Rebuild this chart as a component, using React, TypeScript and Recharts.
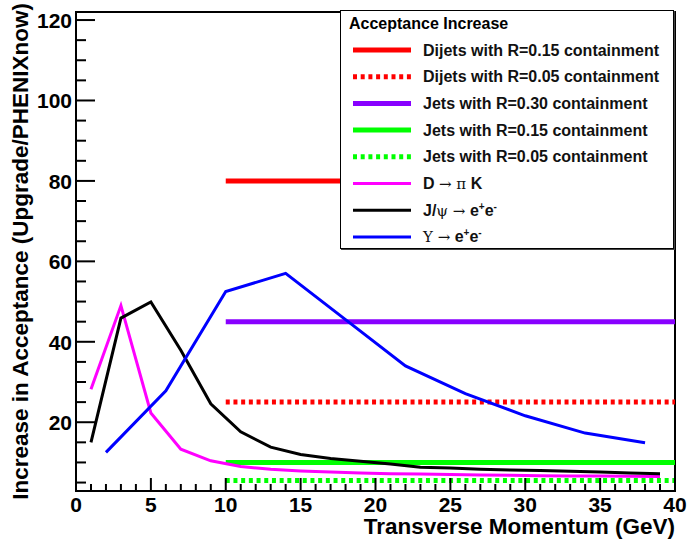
import React from "react";
import { LineChart, Line, XAxis, YAxis, ReferenceArea, Legend } from "recharts";

// transverse momentum points (GeV)
const ptOdd = [1, 3, 5, 7, 9, 11, 13, 15, 17, 19, 21, 23, 25, 27, 29, 31, 33, 35, 37, 39];
const upsilonPt = [2, 6, 10, 14, 18, 22, 26, 30, 34, 38];
const jetPt = [10, 40];

// acceptance increase factors
const dMesonAcc = [28.2, 49, 22.3, 13.3, 10.4, 9.0, 8.3, 7.9, 7.6, 7.4, 7.2, 7.1, 7.0, 6.9, 6.8, 6.7, 6.65, 6.6, 6.55, 6.5];
const jpsiAcc = [15.0, 45.9, 49.9, 37.9, 24.6, 17.6, 13.8, 12.0, 11.0, 10.3, 9.6, 8.8, 8.6, 8.3, 8.1, 8.0, 7.8, 7.6, 7.4, 7.2];
const upsilonAcc = [12.5, 27.8, 52.5, 57.0, 45.5, 34.0, 27.1, 21.6, 17.3, 14.9];
const dijetR15 = [80, 80];
const dijetR05 = [25, 25];
const jetR30 = [45, 45];
const jetR15 = [10, 10];
const jetR05 = [5.5, 5.5];

// axes
const yDomain: [number, number] = [2.9, 122];
const yMajor = [20, 40, 60, 80, 100, 120];
const yTicks = Array.from({ length: 24 }, (_, i) => 5 + i * 5);
const xMajor = [0, 5, 10, 15, 20, 25, 30, 35, 40];
const xTicks = Array.from({ length: 41 }, (_, i) => i);

const FONT = '"Liberation Sans", Arial, Helvetica, sans-serif';
const SYM = '"DejaVu Serif", "Liberation Serif", serif';

const toPoints = (xs: number[], ys: number[]) => xs.map((pt, i) => ({ pt, acc: ys[i] }));

// e+e- with raised charge signs
const ePair = (
  <>
    e<tspan dy={-6} fontSize={10}>+</tspan>
    <tspan dy={6}>e</tspan>
    <tspan dy={-6} fontSize={10}>-</tspan>
  </>
);

type Series = {
  key: string;
  label: React.ReactNode;
  color: string;
  width: number;
  dash?: string;
  data: { pt: number; acc: number }[];
};

const series: Series[] = [
  { key: "dijet15", label: "Dijets with R=0.15 containment", color: "#ff0000", width: 5, data: toPoints(jetPt, dijetR15) },
  { key: "dijet05", label: "Dijets with R=0.05 containment", color: "#ff0000", width: 5, dash: "4 3.7", data: toPoints(jetPt, dijetR05) },
  { key: "jet30", label: "Jets with R=0.30 containment", color: "#8800ff", width: 5, data: toPoints(jetPt, jetR30) },
  { key: "jet15", label: "Jets with R=0.15 containment", color: "#00ff00", width: 5, data: toPoints(jetPt, jetR15) },
  { key: "jet05", label: "Jets with R=0.05 containment", color: "#00ff00", width: 5, dash: "4 3.7", data: toPoints(jetPt, jetR05) },
  {
    key: "dmeson",
    label: (
      <>
        D <tspan fontFamily={SYM} fontWeight="normal" fontSize={15}>{"\u2192 \u03c0"}</tspan> K
      </>
    ),
    color: "#ff00ff",
    width: 3,
    data: toPoints(ptOdd, dMesonAcc),
  },
  {
    key: "jpsi",
    label: (
      <>
        J/<tspan fontFamily={SYM} fontWeight="normal" fontSize={15}>{"\u03c8 \u2192"}</tspan> {ePair}
      </>
    ),
    color: "#000000",
    width: 3,
    data: toPoints(ptOdd, jpsiAcc),
  },
  {
    key: "upsilon",
    label: (
      <>
        <tspan fontFamily={SYM} fontWeight="normal" fontSize={15}>{"\u03a5 \u2192"}</tspan> {ePair}
      </>
    ),
    color: "#0000ff",
    width: 3,
    data: toPoints(upsilonPt, upsilonAcc),
  },
];

const YTick = ({ x, y, payload }: any) => {
  const v = payload.value;
  const major = yMajor.includes(v);
  return (
    <g>
      <line x1={x} x2={x + (major ? 19 : 10)} y1={y} y2={y} stroke="#000" strokeWidth={2} />
      {major && (
        <text x={x - 4} y={y + 8} textAnchor="end" fontFamily={FONT} fontWeight="bold" fontSize={21} fill="#000">
          {v}
        </text>
      )}
    </g>
  );
};

const XTick = ({ x, y, payload }: any) => {
  const v = payload.value;
  const major = xMajor.includes(v);
  return (
    <g>
      <line x1={x} x2={x} y1={y} y2={y - (major ? 13 : 7)} stroke="#000" strokeWidth={2} />
      {major && (
        <text x={x} y={y + 21} textAnchor="middle" fontFamily={FONT} fontWeight="bold" fontSize={21} fill="#000">
          {v}
        </text>
      )}
    </g>
  );
};

const LegendBox = () => (
  <div
    style={{
      width: 334,
      height: 239,
      boxSizing: "border-box",
      border: "1px solid #000",
      boxShadow: "1px 1px 0 #444",
      background: "#fff",
    }}
  >
    <svg width={332} height={237} style={{ display: "block" }}>
      <text x={8} y={18} fontFamily={FONT} fontWeight="bold" fontSize={16} fill="#000">
        Acceptance Increase
      </text>
      {series.map((s, i) => {
        const cy = 39 + i * 26.7;
        return (
          <g key={s.key}>
            <line x1={12} x2={70} y1={cy} y2={cy} stroke={s.color} strokeWidth={s.width} strokeDasharray={s.dash} />
            <text x={82} y={cy + 5.5} fontFamily={FONT} fontWeight="bold" fontSize={16} fill="#111">
              {s.label}
            </text>
          </g>
        );
      })}
    </svg>
  </div>
);

export default function App() {
  return (
    <div style={{ position: "absolute", left: 0, top: 0, background: "#fff" }}>
      <LineChart width={688} height={539} margin={{ top: 12, right: 13, bottom: 47, left: 75 }}>
        <XAxis
          dataKey="pt"
          type="number"
          domain={[0, 40]}
          ticks={xTicks}
          interval={0}
          height={1}
          tickSize={0}
          tickMargin={0}
          tickLine={false}
          tick={(p: any) => <XTick {...p} />}
          axisLine={{ stroke: "#000", strokeWidth: 2 }}
          allowDataOverflow
          label={{
            value: "Transverse Momentum (GeV)",
            content: ({ viewBox }: any) => (
              <text
                x={viewBox.x + viewBox.width}
                y={viewBox.y + 43}
                textAnchor="end"
                fontFamily={FONT}
                fontWeight="bold"
                fontSize={22.5}
                fill="#000"
              >
                Transverse Momentum (GeV)
              </text>
            ),
          }}
        />
        <YAxis
          type="number"
          domain={yDomain}
          ticks={yTicks}
          interval={0}
          width={1}
          tickSize={0}
          tickMargin={0}
          tickLine={false}
          tick={(p: any) => <YTick {...p} />}
          axisLine={{ stroke: "#000", strokeWidth: 2 }}
          allowDataOverflow
          label={{
            value: "Increase in Acceptance (Upgrade/PHENIXnow)",
            content: ({ viewBox }: any) => (
              <text
                x={28}
                y={viewBox.y - 9}
                transform={`rotate(-90, 28, ${viewBox.y - 9})`}
                textAnchor="end"
                fontFamily={FONT}
                fontWeight="bold"
                fontSize={22.5}
                fill="#000"
              >
                Increase in Acceptance (Upgrade/PHENIXnow)
              </text>
            ),
          }}
        />
        <ReferenceArea x1={0} x2={40} y1={yDomain[0]} y2={yDomain[1]} fill="none" stroke="#000" strokeWidth={2} />
        {series.map((s) => (
          <Line
            key={s.key}
            data={s.data}
            dataKey="acc"
            name={s.key}
            type="linear"
            stroke={s.color}
            strokeWidth={s.width}
            strokeDasharray={s.dash}
            dot={false}
            activeDot={false}
            isAnimationActive={false}
          />
        ))}
        <Legend
          layout="horizontal"
          verticalAlign="middle"
          align="center"
          wrapperStyle={{ position: "absolute", left: 340, top: 10, width: 334, height: 239 }}
          content={() => <LegendBox />}
        />
      </LineChart>
    </div>
  );
}
